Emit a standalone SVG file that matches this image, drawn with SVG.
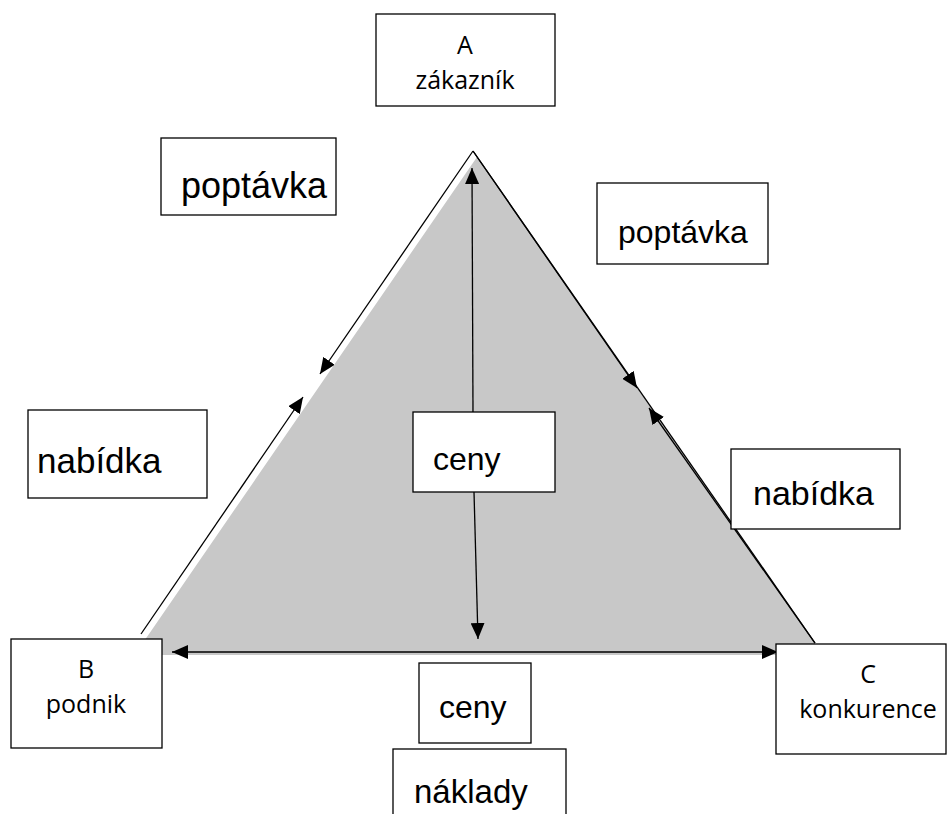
<svg xmlns="http://www.w3.org/2000/svg" width="950" height="814" viewBox="0 0 950 814">
  <style>
    .box { fill: #ffffff; stroke: #000000; stroke-width: 1.3; }
    .lbl { font-family: "Liberation Sans", Arial, sans-serif; font-size: 33px; fill: #000; }
    .cal { font-family: "Open Sans", "Noto Sans", sans-serif; font-size: 25px; fill: #000; text-anchor: middle; }
    .ln { stroke: #000; stroke-width: 1.3; fill: none; }
  </style>
  <defs>
    <marker id="ah" viewBox="0 0 16 14" refX="16" refY="7" markerWidth="16" markerHeight="14" markerUnits="userSpaceOnUse" orient="auto">
      <path d="M0,0 L16,7 L0,14 Z" fill="#000"/>
    </marker>
  </defs>

  <g id="triangle">
    <polygon points="477,157 823,655 134,655 149,634" fill="#c8c8c8"/>
  </g>

  <g id="connectors">
    <line class="ln" x1="473" y1="151" x2="815" y2="643"/>
    <line class="ln" x1="473" y1="151" x2="320" y2="374" marker-end="url(#ah)"/>
    <line class="ln" x1="141" y1="634" x2="303" y2="397" marker-end="url(#ah)"/>
    <line class="ln" x1="473" y1="151" x2="637" y2="388" marker-end="url(#ah)"/>
    <line class="ln" x1="815" y1="643" x2="649" y2="408" marker-end="url(#ah)"/>
    <line class="ln" x1="473" y1="412" x2="472" y2="168" marker-end="url(#ah)"/>
    <line class="ln" x1="474" y1="492" x2="478" y2="639" marker-end="url(#ah)"/>
    <line class="ln" x1="475" y1="652" x2="172" y2="652" marker-end="url(#ah)"/>
    <line class="ln" x1="475" y1="652" x2="778" y2="652" marker-end="url(#ah)"/>
  </g>

  <g id="node-A">
    <rect class="box" x="376" y="14" width="179" height="92"/>
    <text class="cal" x="465" y="54">A</text>
    <text class="cal" x="465" y="89">zákazník</text>
  </g>
  <g id="poptavka-left">
    <rect class="box" x="161" y="138" width="175" height="77"/>
    <text class="lbl" x="181" y="198" style="font-size:36px">poptávka</text>
  </g>
  <g id="poptavka-right">
    <rect class="box" x="597" y="183" width="171" height="81"/>
    <text class="lbl" x="618" y="243" style="font-size:32px">poptávka</text>
  </g>
  <g id="nabidka-left">
    <rect class="box" x="28" y="410" width="179" height="88"/>
    <text class="lbl" x="37" y="473" style="font-size:35px">nabídka</text>
  </g>
  <g id="ceny-middle">
    <rect class="box" x="413" y="412" width="142" height="80"/>
    <text class="lbl" x="433" y="470" style="font-size:32px">ceny</text>
  </g>
  <g id="nabidka-right">
    <rect class="box" x="731" y="449" width="169" height="80"/>
    <text class="lbl" x="753" y="505" style="font-size:34px">nabídka</text>
  </g>
  <g id="node-B">
    <rect class="box" x="11" y="639" width="151" height="109"/>
    <text class="cal" x="86" y="678">B</text>
    <text class="cal" x="86" y="713">podnik</text>
  </g>
  <g id="node-C">
    <rect class="box" x="776" y="644" width="170" height="110"/>
    <text class="cal" x="868" y="683">C</text>
    <text class="cal" x="868" y="718">konkurence</text>
  </g>
  <g id="ceny-bottom">
    <rect class="box" x="419" y="663" width="112" height="80"/>
    <text class="lbl" x="439" y="718" style="font-size:32px">ceny</text>
  </g>
  <g id="naklady">
    <rect class="box" x="393" y="749" width="173" height="80"/>
    <text class="lbl" x="414" y="803">náklady</text>
  </g>
</svg>
